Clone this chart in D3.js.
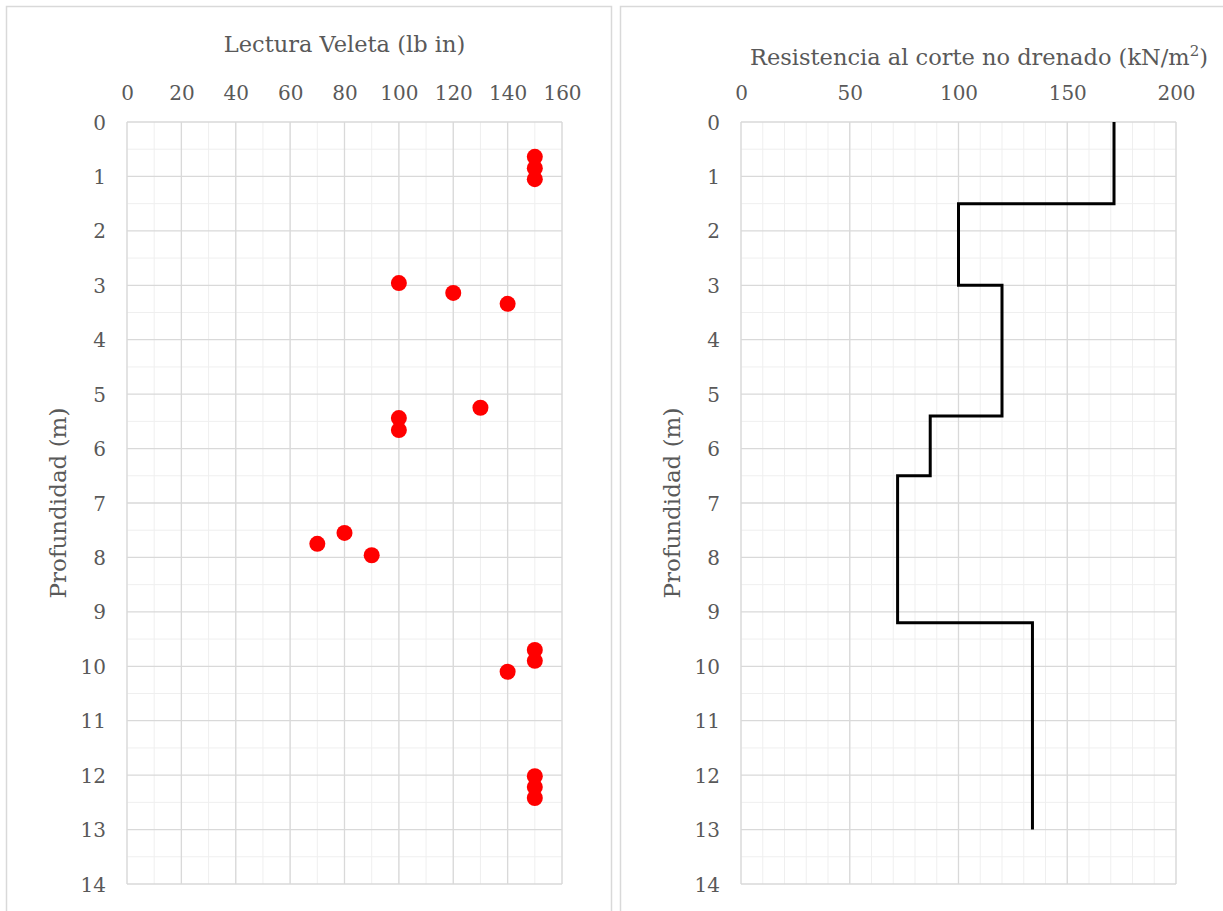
<!DOCTYPE html>
<html>
<head>
<meta charset="utf-8">
<script src="https://cdn.jsdelivr.net/npm/d3@7"></script>
<style>
  body { margin: 0; background: #fff; }
  svg text { font-family: "DejaVu Serif", serif; fill: #595959; }
</style>
</head>
<body>
<div id="chart"></div>
<script>
// Lectura veleta (lb in) vs profundidad (m)
var veletaLectura = [150, 150, 150, 100, 120, 140, 130, 100, 100, 80, 70, 90, 150, 150, 140, 150, 150, 150];
var veletaProf = [0.64, 0.85, 1.05, 2.96, 3.14, 3.34, 5.25, 5.44, 5.66, 7.55, 7.75, 7.96, 9.7, 9.9, 10.1, 12.02, 12.22, 12.42];

// Resistencia al corte no drenado (kN/m2), perfil escalonado
var cuValor = [171.5, 171.5, 100, 100, 120, 120, 87, 87, 72, 72, 134, 134];
var cuProf = [0, 1.5, 1.5, 3, 3, 5.4, 5.4, 6.5, 6.5, 9.2, 9.2, 13];

var profTicks = d3.range(0, 15, 1);
var veletaTicks = [0, 20, 40, 60, 80, 100, 120, 140, 160];
var cuTicks = [0, 50, 100, 150, 200];

var svg = d3.select("#chart").append("svg")
    .attr("width", 1223)
    .attr("height", 911);

// marcos de los dos graficos
svg.append("rect").attr("x", 6.5).attr("y", 6.5).attr("width", 605).attr("height", 920)
    .attr("fill", "none").attr("stroke", "#d9d9d9").attr("stroke-width", 1.5);
svg.append("rect").attr("x", 620.5).attr("y", 6.5).attr("width", 620).attr("height", 920)
    .attr("fill", "none").attr("stroke", "#d9d9d9").attr("stroke-width", 1.5);

function panel(left, right, xmax, xTicks, minorStep, titulo, tituloX, tituloY) {
    var x = d3.scaleLinear().domain([0, xmax]).range([left, right]);
    var y = d3.scaleLinear().domain([0, 14]).range([122, 884]);
    var g = svg.append("g");

    // rejilla menor
    g.selectAll(".minx").data(d3.range(0, xmax + 0.01, minorStep)).enter().append("line")
        .attr("x1", function (d) { return x(d); }).attr("x2", function (d) { return x(d); })
        .attr("y1", y(0)).attr("y2", y(14))
        .attr("stroke", "#efefef").attr("stroke-width", 1);
    g.selectAll(".miny").data(d3.range(0.5, 14, 1)).enter().append("line")
        .attr("y1", function (d) { return y(d); }).attr("y2", function (d) { return y(d); })
        .attr("x1", x(0)).attr("x2", x(xmax))
        .attr("stroke", "#efefef").attr("stroke-width", 1);

    // rejilla mayor
    g.selectAll(".majx").data(xTicks).enter().append("line")
        .attr("x1", function (d) { return x(d); }).attr("x2", function (d) { return x(d); })
        .attr("y1", y(0)).attr("y2", y(14))
        .attr("stroke", "#d9d9d9").attr("stroke-width", 1.3);
    g.selectAll(".majy").data(profTicks).enter().append("line")
        .attr("y1", function (d) { return y(d); }).attr("y2", function (d) { return y(d); })
        .attr("x1", x(0)).attr("x2", x(xmax))
        .attr("stroke", "#d9d9d9").attr("stroke-width", 1.3);

    // ejes (solo etiquetas)
    var ax = g.append("g").attr("transform", "translate(0,100)")
        .call(d3.axisTop(x).tickValues(xTicks).tickSize(0).tickPadding(0));
    var ay = g.append("g").attr("transform", "translate(" + (left - 21) + ",0)")
        .call(d3.axisLeft(y).tickValues(profTicks).tickSize(0).tickPadding(0));
    [ax, ay].forEach(function (a) {
        a.select(".domain").remove();
        a.selectAll("text").style("font-size", "20px").attr("fill", "#595959")
            .style("font-family", "'DejaVu Serif', serif");
    });
    ay.selectAll("text").attr("dy", "0.35em");

    g.append("text")
        .attr("x", tituloX).attr("y", tituloY)
        .attr("text-anchor", "middle")
        .style("font-size", "22.5px")
        .html(titulo);

    g.append("text")
        .attr("transform", "translate(" + (left - 61) + "," + y(7) + ") rotate(-90)")
        .attr("text-anchor", "middle")
        .style("font-size", "23px")
        .text("Profundidad (m)");

    return { x: x, y: y, g: g };
}

var p1 = panel(127, 562, 160, veletaTicks, 10, "Lectura Veleta (lb in)", 344.5, 52);
p1.g.selectAll(".punto").data(veletaLectura).enter().append("circle")
    .attr("cx", function (d) { return p1.x(d); })
    .attr("cy", function (d, i) { return p1.y(veletaProf[i]); })
    .attr("r", 8)
    .attr("fill", "#ff0000");

var p2 = panel(741, 1176, 200, cuTicks, 10,
    "Resistencia al corte no drenado (kN/m<tspan dy='-9' font-size='15'>2</tspan><tspan dy='9'>)</tspan>", 979, 65);
var linea = d3.line()
    .x(function (d) { return p2.x(d); })
    .y(function (d, i) { return p2.y(cuProf[i]); });
p2.g.append("path")
    .attr("d", linea(cuValor))
    .attr("fill", "none")
    .attr("stroke", "#000")
    .attr("stroke-width", 3);
</script>
</body>
</html>
